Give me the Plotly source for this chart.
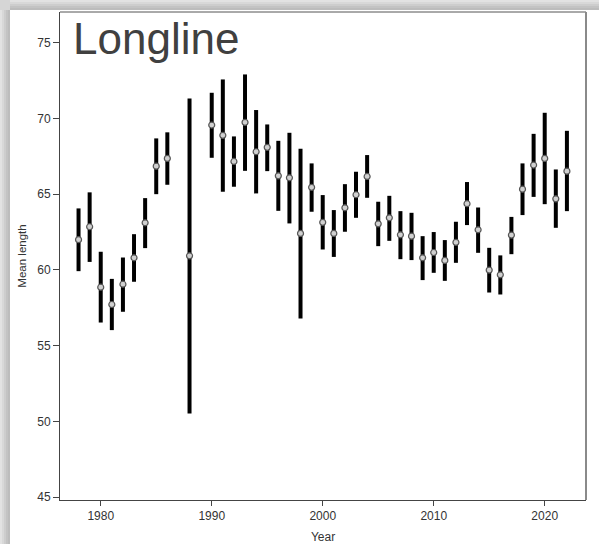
import plotly.graph_objects as go

years = [1978, 1979, 1980, 1981, 1982, 1983, 1984, 1985, 1986, 1988,
         1990, 1991, 1992, 1993, 1994, 1995, 1996, 1997, 1998, 1999,
         2000, 2001, 2002, 2003, 2004, 2005, 2006, 2007, 2008, 2009,
         2010, 2011, 2012, 2013, 2014, 2015, 2016, 2017, 2018, 2019,
         2020, 2021, 2022]
mean_len = [62.0, 62.85, 58.86, 57.72, 59.06, 60.8, 63.11, 66.85, 67.36, 60.93,
            69.56, 68.88, 67.16, 69.74, 67.8, 68.09, 66.21, 66.08, 62.41, 65.45,
            63.14, 62.41, 64.1, 64.96, 66.17, 63.04, 63.44, 62.32, 62.23, 60.8,
            61.15, 60.63, 61.82, 64.37, 62.65, 59.99, 59.68, 62.3, 65.33, 66.92,
            67.36, 64.69, 66.52]
upper = [64.06, 65.12, 61.2, 59.41, 60.82, 62.36, 64.74, 68.68, 69.08, 71.32,
         71.69, 72.57, 68.81, 72.9, 70.55, 69.6, 68.52, 69.05, 67.99, 67.03,
         64.94, 63.95, 65.66, 66.48, 67.58, 64.5, 64.89, 63.88, 63.77, 62.23,
         62.5, 61.97, 63.18, 65.8, 64.12, 61.46, 60.96, 63.5, 67.03, 68.98,
         70.37, 66.63, 69.18]
lower = [59.92, 60.53, 56.53, 56.03, 57.24, 59.22, 61.44, 65.0, 65.62, 50.53,
         67.4, 65.16, 65.49, 66.54, 65.05, 66.52, 63.9, 63.07, 56.8, 63.84,
         61.35, 60.86, 62.52, 63.44, 64.76, 61.57, 61.92, 60.71, 60.65, 59.33,
         59.81, 59.28, 60.47, 62.96, 61.13, 58.51, 58.38, 61.04, 63.62, 64.82,
         64.34, 62.78, 63.88]
x_ticks = [1980, 1990, 2000, 2010, 2020]
y_ticks = [45, 50, 55, 60, 65, 70, 75]

err_plus = [u - m for u, m in zip(upper, mean_len)]
err_minus = [m - l for m, l in zip(mean_len, lower)]

W, H = 599, 544
L, R, T, B = 60, 586, 12, 500
pw, ph = R - L, B - T


def px_x(p):
    return (p - L) / pw


def px_y(p):
    return (B - p) / ph


fig = go.Figure()
fig.add_trace(go.Scatter(
    x=years, y=mean_len, mode="markers",
    marker=dict(size=6, color="#d0d0d0", line=dict(color="#555555", width=1.2)),
    error_y=dict(type="data", symmetric=False, array=err_plus, arrayminus=err_minus,
                 color="black", thickness=4, width=0),
    showlegend=False,
))

shapes = []
# screenshot-like shadow bands
shapes.append(dict(type="rect", xref="paper", yref="paper", layer="below",
                   x0=px_x(0), x1=px_x(W), y0=px_y(0), y1=px_y(H),
                   fillcolor="#d6d6d6", line=dict(width=0)))
for i, c in enumerate(["#e2e2e2", "#d8d8d8", "#cdcdcd", "#c3c3c3", "#bcbcbc"]):
    shapes.append(dict(type="rect", xref="paper", yref="paper", layer="below",
                       x0=px_x(2 * i), x1=px_x(2 * i + 2), y0=px_y(10), y1=px_y(H),
                       fillcolor=c, line=dict(width=0)))
    shapes.append(dict(type="rect", xref="paper", yref="paper", layer="below",
                       x0=px_x(10), x1=px_x(W), y0=px_y(2 * i), y1=px_y(2 * i + 2),
                       fillcolor=c, line=dict(width=0)))
shapes.append(dict(type="rect", xref="paper", yref="paper", layer="below",
                   x0=px_x(10), x1=px_x(W), y0=px_y(10), y1=px_y(H),
                   fillcolor="white", line=dict(width=0)))
# plot frame (top/right gray)
shapes.append(dict(type="line", xref="paper", yref="paper",
                   x0=0, x1=1, y0=1, y1=1, line=dict(color="#555555", width=1)))
shapes.append(dict(type="line", xref="paper", yref="paper",
                   x0=1, x1=1, y0=0, y1=1, line=dict(color="#8a8a8a", width=2)))

fig.update_layout(
    width=W, height=H,
    margin=dict(l=L, r=W - R, t=T, b=H - B, pad=0),
    paper_bgcolor="white", plot_bgcolor="rgba(0,0,0,0)",
    font=dict(family="Liberation Sans, Arial, sans-serif", color="#333333", size=12),
    shapes=shapes,
    xaxis=dict(range=[1976.33, 2023.72], tickvals=x_ticks, showgrid=False, zeroline=False,
               showline=True, linecolor="#444444", linewidth=1, ticks="outside",
               ticklen=5, tickcolor="#444444", tickfont=dict(size=12, color="#333333"),
               automargin=False,
               title=dict(text="Year", font=dict(size=12, color="#333333"), standoff=21)),
    yaxis=dict(range=[44.82, 77.02], tickvals=y_ticks, showgrid=False, zeroline=False,
               showline=True, linecolor="#444444", linewidth=1, ticks="outside",
               ticklen=6, tickcolor="#444444", tickfont=dict(size=12, color="#333333"),
               automargin=False,
               title=dict(text="Mean length", font=dict(size=11.5, color="#333333"), standoff=8)),
    annotations=[dict(text="Longline", xref="paper", yref="paper",
                      x=px_x(71), y=px_y(39), xanchor="left", yanchor="middle",
                      showarrow=False,
                      font=dict(size=44, color="#404040",
                                family="Liberation Sans, Arial, sans-serif"))],
)

fig.write_html("out.html")
